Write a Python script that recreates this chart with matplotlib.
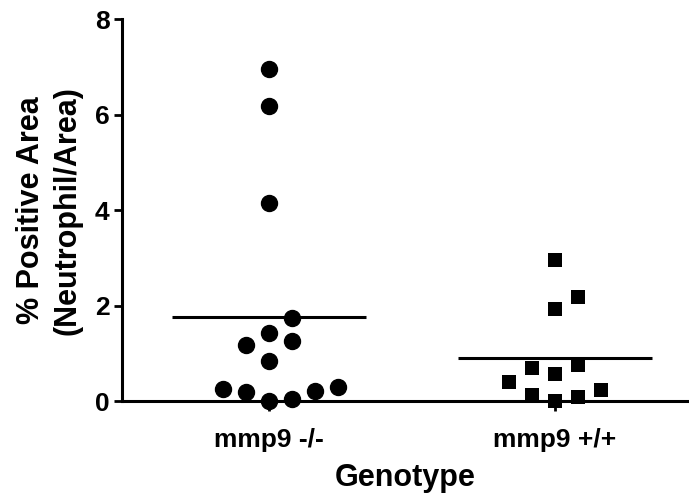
import numpy as np
import matplotlib.pyplot as plt

plt.rcParams['font.family'] = ['Liberation Sans', 'DejaVu Sans']
plt.rcParams['font.weight'] = 'bold'

# Data
groups = ["mmp9 -/-", "mmp9 +/+"]
ko_values = [6.95, 6.18, 4.14, 1.74, 1.43, 1.26, 1.17, 0.85,
             0.25, 0.19, 0.01, 0.04, 0.22, 0.29]
ko_slots = [0, 0, 0, 1, 0, 1, -1, 0, -2, -1, 0, 1, 2, 3]
wt_values = [2.95, 2.17, 1.92, 0.70, 0.57, 0.75, 0.40, 0.23,
             0.12, 0.08, 0.0]
wt_slots = [0, 1, 0, -1, 0, 1, -2, 2, -1, 1, 0]
yticks = [0, 2, 4, 6, 8]

step = 0.08  # horizontal spacing between stacked dots

fig = plt.figure(figsize=(6.89, 4.94), dpi=100)
ax = fig.add_axes([0.177, 0.188, 0.8215, 0.7735])

ax.plot(0 + np.array(ko_slots) * step, ko_values, 'o', color='black',
        markersize=11.5, clip_on=False, zorder=3)
ax.plot(1 + np.array(wt_slots) * step, wt_values, 's', color='black',
        markersize=10.5, markeredgewidth=0, clip_on=False, zorder=3)

# mean lines
for i, vals in enumerate([ko_values, wt_values]):
    m = np.mean(vals)
    ax.plot([i - 0.34, i + 0.34], [m, m], color='black', linewidth=2.2,
            solid_capstyle='butt', zorder=2)

ax.set_xlim(-0.514, 1.465)
ax.set_ylim(0, 8)
ax.set_yticks(yticks)
ax.set_xticks([0, 1])
ax.set_xticklabels(groups, fontsize=19, fontweight='bold')
ax.tick_params(axis='y', labelsize=19, width=2, length=6, pad=3)
ax.tick_params(axis='x', width=2, length=7, pad=12)

for side in ['top', 'right']:
    ax.spines[side].set_visible(False)
for side in ['left', 'bottom']:
    ax.spines[side].set_linewidth(2.2)

ax.set_ylabel("% Positive Area\n(Neutrophil/Area)", fontsize=22,
              fontweight='bold', labelpad=9, linespacing=1.25)
ax.set_xlabel("Genotype", fontsize=22, fontweight='bold', labelpad=8)

fig.savefig("out.png", dpi=100)
